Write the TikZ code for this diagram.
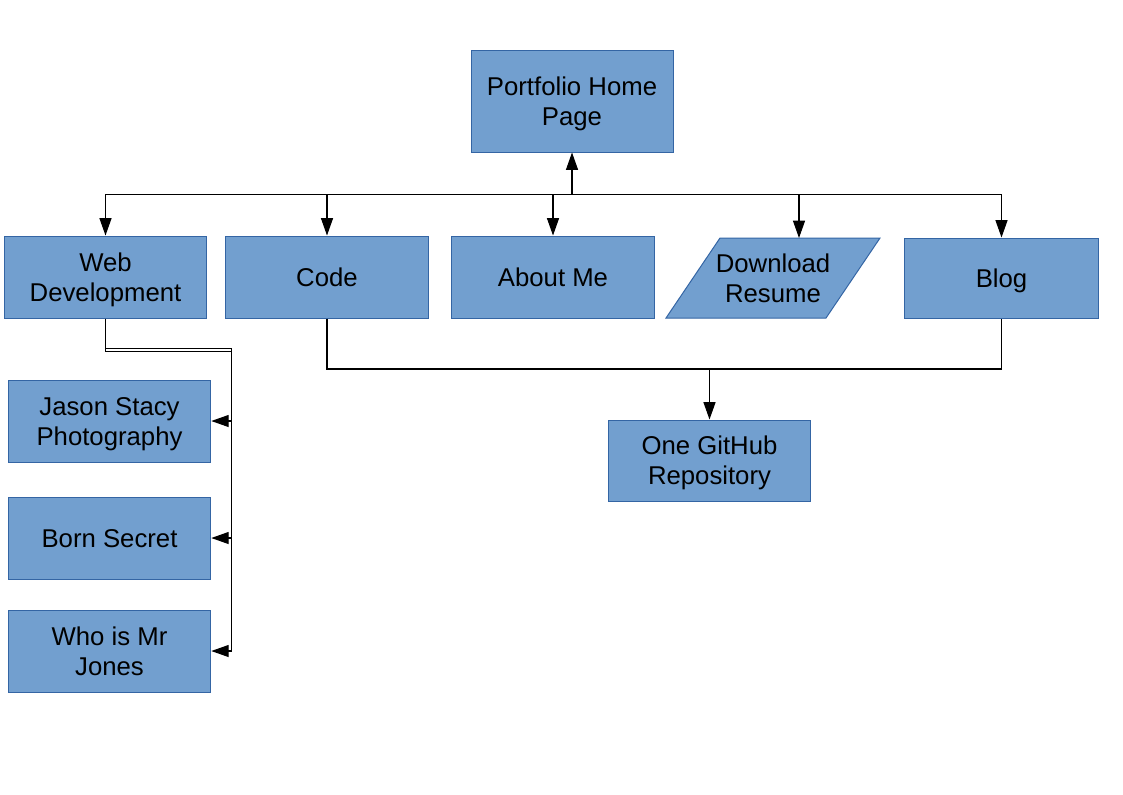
\documentclass[tikz,border=0pt]{standalone}
\usepackage{fontspec}
\setmainfont{Liberation Sans}
\usetikzlibrary{arrows.meta}
\definecolor{boxfill}{HTML}{729FCF}
\definecolor{boxline}{HTML}{3465A4}
\newcommand\mystrut{\rule[-4.5pt]{0pt}{22.5pt}}
\begin{document}
\begin{tikzpicture}[x=0.75pt,y=-0.75pt,
  txt/.style={align=center, inner sep=0pt, font=\fontsize{19.3}{22.5}\selectfont},
  box/.style={txt, draw=boxline, fill=boxfill, line width=0.75pt, minimum width=152pt, minimum height=61.5pt},
  shapebox/.style={draw=boxline, fill=boxfill, line width=0.75pt},
  conn/.style={line width=0.8pt, black},
  thinconn/.style={line width=0.6pt, black},
  arr/.style={conn, -{Triangle[length=13pt,width=9pt]}}]
\useasboundingbox (0,0) rectangle (1123,794);

\node[box, minimum width=151.5pt, minimum height=76.5pt] (home) at (572,101) {\mystrut Portfolio Home\\\mystrut Page};
\node[box] (web) at (105.5,277) {\mystrut Web\\\mystrut Development};
\node[box] (code) at (327,277) {\mystrut Code};
\node[box] (about) at (553,277) {\mystrut About Me};
\filldraw[shapebox] (666,318) -- (720,238) -- (880,238) -- (826,318) -- cycle;
\node[txt] (dr) at (773,278) {\mystrut Download\\\mystrut Resume};
\coordinate (drtop) at (799,238);
\node[box, minimum width=146pt, minimum height=60pt] (blog) at (1001.5,278) {\mystrut Blog};
\node[box] (jason) at (109.5,421) {\mystrut Jason Stacy\\\mystrut Photography};
\node[box] (born) at (109.5,538) {\mystrut Born Secret};
\node[box] (jones) at (109.5,651) {\mystrut Who is Mr\\\mystrut Jones};
\node[box, minimum height=60.75pt] (github) at (709.5,460.5) {\mystrut One GitHub\\\mystrut Repository};

% top bus
\coordinate (hub) at (572,194.5);
\draw[arr] (hub) -- (home);
\draw[conn] (105,194.5) -- (1001,194.5);
\draw[arr] (hub) -| (web);
\draw[arr] (hub) -| (code);
\draw[arr] (hub) -| (about);
\draw[arr] (hub) -| (drtop);
\draw[arr] (hub) -| (blog);

% web development subtree
\coordinate (wbend) at (231.5,348.5);
\draw[thinconn] (web) -- (105.5,351.5) -- (231.5,351.5);
\draw[thinconn] (105.5,348.5) -- (wbend);
\draw[conn] (wbend) -- (231.5,651);
\draw[arr] (wbend |- jason) -- (jason);
\draw[arr] (wbend |- born) -- (born);
\draw[arr] (wbend |- jones) -- (jones);

% code / blog to github
\coordinate (gh) at (709.5,369);
\draw[conn] (code) |- (gh) -| (blog);
\draw[arr] (gh) -- (github);
\end{tikzpicture}
\end{document}
